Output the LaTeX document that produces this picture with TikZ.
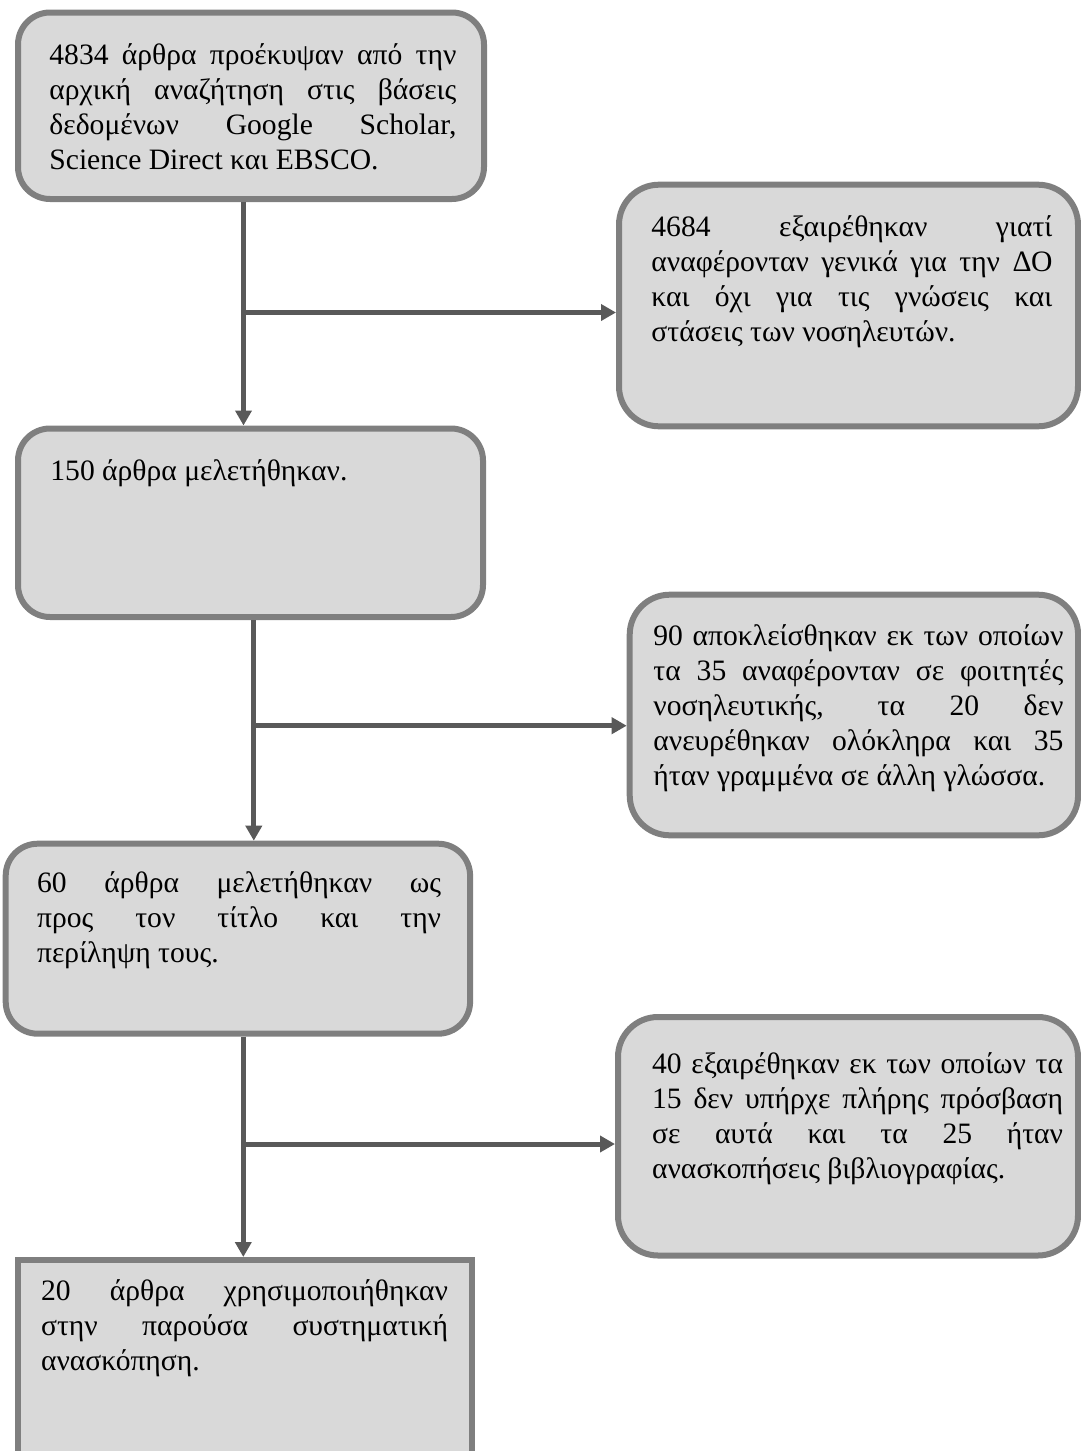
\documentclass[tikz,border=0pt]{standalone}
\usepackage{fontspec}
\setmainfont{Liberation Serif}
\usetikzlibrary{arrows.meta, calc, positioning}
\definecolor{boxedge}{HTML}{7F7F7F}
\definecolor{boxfill}{HTML}{D9D9D9}
\definecolor{flowgray}{HTML}{595959}
\tolerance=10000
\hyphenpenalty=10000
\tikzset{
  % riquadro di una fase
  stage/.style={draw=boxedge, fill=boxfill, line width=3pt, anchor=north west,
    inner sep=0pt},
  stage round/.style={stage, rounded corners=16pt},
  stage wide/.style={stage, rounded corners=20pt},
  % testo giustificato di una fase
  stagetxt/.style={anchor=base west, inner sep=0pt, align=justify,
    font=\fontsize{14.8}{17.5}\selectfont},
  % collegamenti
  flowline/.style={line width=2.5pt, flowgray},
  flowarrow/.style={flowline, -{Triangle[length=7.5pt, width=8pt]}},
}

\begin{document}
\begin{tikzpicture}[x=0.5pt, y=-0.5pt]
  \useasboundingbox (0,0) rectangle (1081,1451);
  \clip (0,0) rectangle (1081,1451);
  \node[stage round, minimum width=233pt, minimum height=93.25pt] (found) at (15,9.5) {};
  \node[stage wide, minimum width=229.5pt, minimum height=120.8pt] (excl1) at (616,181.7) {};
  \node[stage round, minimum width=232.5pt, minimum height=94.25pt] (read) at (15,425.5) {};
  \node[stage wide, minimum width=224.2pt, minimum height=120.3pt] (excl2) at (626.7,591.7) {};
  \node[stage round, minimum width=232.2pt, minimum height=95pt] (title) at (2.7,840.7) {};
  \node[stage wide, minimum width=230pt, minimum height=119.25pt] (excl3) at (615,1014) {};
  \node[stage, minimum width=227pt, minimum height=125pt] (final) at (15,1257) {};

  \node[stagetxt, text width=203.5pt] (foundtxt) at (49,64) {4834 άρθρα προέκυψαν από την\linebreak
    αρχική αναζήτηση στις βάσεις\linebreak δεδομένων Google Scholar,\linebreak Science Direct και EBSCO.};
  \node[stagetxt, text width=200.5pt] (excl1txt) at (651,236.7) {4684 εξαιρέθηκαν γιατί\linebreak
    αναφέρονταν γενικά για την ΔΟ\linebreak και όχι για τις γνώσεις και\linebreak στάσεις των νοσηλευτών.};
  \node[stagetxt, text width=203.5pt] (readtxt) at (50,480) {150 άρθρα μελετήθηκαν.};
  \node[stagetxt, text width=205pt] (excl2txt) at (653,645) {90 αποκλείσθηκαν εκ των οποίων\linebreak
    τα 35 αναφέρονταν σε φοιτητές\linebreak νοσηλευτικής, τα 20 δεν\linebreak ανευρέθηκαν ολόκληρα και 35\linebreak
    ήταν γραμμένα σε άλλη γλώσσα.};
  \node[stagetxt, text width=202pt] (titletxt) at (36.7,892.7) {60 άρθρα μελετήθηκαν ως\linebreak
    προς τον τίτλο και την\linebreak περίληψη τους.};
  \node[stagetxt, text width=205.5pt] (excl3txt) at (651.7,1073) {40 εξαιρέθηκαν εκ των οποίων τα\linebreak
    15 δεν υπήρχε πλήρης πρόσβαση\linebreak σε αυτά και τα 25 ήταν\linebreak ανασκοπήσεις βιβλιογραφίας.};
  \node[stagetxt, text width=203.5pt] (finaltxt) at (40.7,1300) {20 άρθρα χρησιμοποιήθηκαν\linebreak
    στην παρούσα συστηματική\linebreak ανασκόπηση.};

  \coordinate (j1) at (243.5,312.5);
  \coordinate (j2) at (253.8,725.7);
  \coordinate (j3) at (243.3,1144);
  \draw[flowarrow] (j1 |- found.south) -- (j1 |- read.north);
  \draw[flowarrow] (j1) -- (j1 -| excl1.west);
  \draw[flowarrow] (j2 |- read.south) -- (j2 |- title.north);
  \draw[flowarrow] (j2) -- (j2 -| excl2.west);
  \draw[flowarrow] (j3 |- title.south) -- (j3 |- final.north);
  \draw[flowarrow] (j3) -- (j3 -| excl3.west);
\end{tikzpicture}
\end{document}
